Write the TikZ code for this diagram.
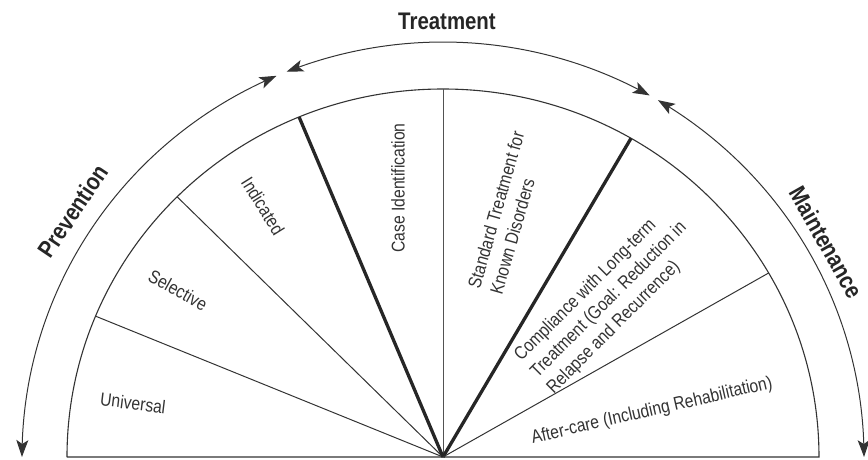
\documentclass[tikz,border=0pt]{standalone}
\usepackage{fontspec}
\setmainfont{Liberation Sans}[FakeStretch=0.85]
\usetikzlibrary{arrows.meta,bending}
\definecolor{ink}{HTML}{333333}
\definecolor{inkdark}{HTML}{262626}
\tikzset{
  outline/.style={draw=ink, line width=1.1pt},
  thinspoke/.style={draw=ink, line width=1pt},
  thickspoke/.style={draw=inkdark, line width=3.3pt},
  cyclearrow/.style={draw=ink, line width=1pt,
    arrows={Stealth[length=17pt,width=12pt,inset=4pt,bend]-Stealth[length=17pt,width=12pt,inset=4pt,bend]}},
  phase/.style={font=\fontsize{24}{26}\selectfont\bfseries, text=inkdark, inner sep=0pt},
  seglabel/.style={font=\fontsize{18.5}{23}\selectfont, text=ink, inner sep=0pt, align=left},
}
\begin{document}
\begin{tikzpicture}[x=1pt,y=1pt]
\useasboundingbox (-443,-2) rectangle (425,457);
\coordinate (O) at (0,0);
% inner half-ellipse
\coordinate (R) at (376,0);
\coordinate (L) at (-376,0);
\draw[outline] (L) -- (R) arc[start angle=0,end angle=180,x radius=376pt,y radius=368pt];
% spokes
\coordinate (s1) at (157.5:376pt and 368pt);
\coordinate (s2) at (135:376pt and 368pt);
\coordinate (s3) at (112.5:376pt and 368pt);
\coordinate (s4) at (90:376pt and 368pt);
\coordinate (s5) at (60:376pt and 368pt);
\coordinate (s6) at (30:376pt and 368pt);
\draw[thinspoke] (O) -- (s1);
\draw[thinspoke] (O) -- (s2);
\draw[thickspoke] (O) -- (s3);
\draw[thinspoke, draw=ink!85, line width=0.9pt] (O) -- (s4);
\draw[thickspoke] (O) -- (s5);
\draw[thinspoke] (O) -- (s6);
% outer arrows
\coordinate (pvA) at (113.3:421pt and 415pt);
\coordinate (trA) at (111.8:421pt and 415pt);
\coordinate (mnA) at (59.3:421pt and 415pt);
\draw[cyclearrow] (pvA) arc[start angle=113.3,end angle=180,x radius=421pt,y radius=415pt];
\draw[cyclearrow] (trA) arc[start angle=111.8,end angle=60.6,x radius=421pt,y radius=415pt];
\draw[cyclearrow] (mnA) arc[start angle=59.3,end angle=0,x radius=421pt,y radius=415pt];
% phase labels
\node[phase] (treat) at (4,436) {Treatment};
\node[phase, rotate=56] (prev) at (146:446pt and 440pt) {Prevention};
\node[phase, rotate=-60.5] (maint) at (29.5:440pt and 436pt) {Maintenance};
% segment labels
\node[seglabel, rotate=-7] (univ) at (-310,54) {Universal};
\node[seglabel, rotate=-29] (sel) at (-265,167) {Selective};
\node[seglabel, rotate=-58] (ind) at (-180,251) {Indicated};
\node[seglabel, rotate=90] (case) at (-45,269) {Case Identification};
\node[seglabel, rotate=74] (std) at (64,244) {Standard Treatment for\\Known Disorders};
\node[seglabel, rotate=45] (comp) at (166,157) {Compliance with Long-term\\Treatment (Goal: Reduction in\\Relapse and Recurrence)};
\node[seglabel, rotate=13] (after) at (209,46) {After-care (Including Rehabilitation)};
\end{tikzpicture}
\end{document}
